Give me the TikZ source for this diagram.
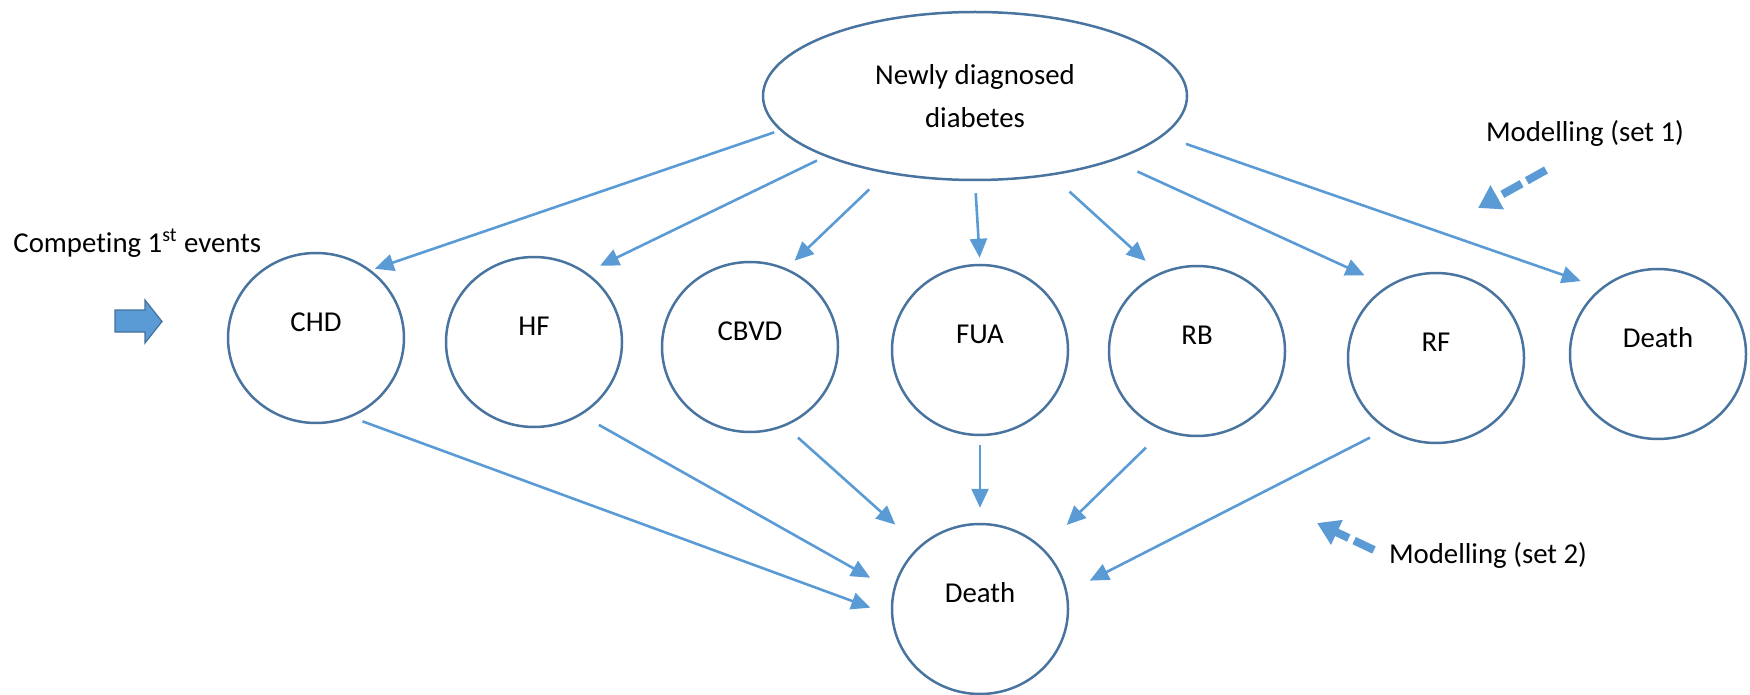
\documentclass[tikz,border=0pt]{standalone}
\usepackage{fontspec}
\setmainfont[Ligatures=NoCommon]{Carlito}
\usetikzlibrary{arrows.meta,shapes.geometric}
\definecolor{edgeblue}{HTML}{4A74A0}
\definecolor{arrowblue}{HTML}{5B9BD5}
\definecolor{blockedge}{HTML}{41719C}
\begin{document}
\begin{tikzpicture}[x=0.5pt,y=-0.5pt,
  every node/.style={font=\fontsize{14.4pt}{21.5pt}\selectfont},
  state/.style={ellipse, draw=edgeblue, line width=1.25pt, minimum width=88pt, minimum height=85pt, inner sep=0pt},
  lbl/.style={yshift=8pt, inner sep=0pt},
  arr/.style={draw=arrowblue, line width=1.3pt, -{Triangle[length=9.5pt,width=8.5pt]}},
  dasharr/.style={draw=arrowblue, line width=4pt, dash pattern=on 11pt off 3pt, -{Triangle[length=11pt,width=13pt]}}
]
\useasboundingbox (0,0) rectangle (1750,695);

% top node
\node[ellipse, draw=edgeblue, line width=1.25pt, minimum width=212pt, minimum height=84pt, inner sep=0pt, align=center] (top) at (975,96) {Newly diagnosed\\diabetes};

% first events
\node[state, label={[lbl]center:CHD}] (chd) at (316,338) {};
\node[state, label={[lbl]center:HF}] (hf) at (534,342) {};
\node[state, label={[lbl]center:CBVD}] (cbvd) at (750,347) {};
\node[state, label={[lbl]center:FUA}] (fua) at (980,350) {};
\node[state, label={[lbl]center:RB}] (rb) at (1197,351) {};
\node[state, label={[lbl]center:RF}] (rf) at (1436,358) {};
\node[state, label={[lbl]center:Death}] (d2) at (1658,354) {};
\node[state, label={[lbl]center:Death}] (db) at (980,609) {};

% arrows from top
\draw[arr, shorten <=3pt, shorten >=2pt] (top.190.3) -- (chd.51.7);
\draw[arr, shorten <=4.5pt, shorten >=7.5pt] (top.202.4) -- (hf.53.5);
\draw[arr, shorten <=11.5pt, shorten >=5.5pt] (top.221.2) -- (cbvd.65.8);
\draw[arr, shorten <=6pt, shorten >=3pt] (top.270) -- (fua.90);
\draw[arr, shorten <=12pt, shorten >=9pt] (top.314.4) -- (rb.116.8);
\draw[arr, shorten <=13pt, shorten >=12.5pt] (top.335) -- (rf.124.7);
\draw[arr, shorten <=12pt, shorten >=10.5pt] (top.348.2) -- (d2.131.2);

% arrows to bottom death
\draw[arr, shorten <=6pt, shorten >=11pt] (chd.294.7) -- (db.184.2);
\draw[arr, shorten <=10pt, shorten >=13pt] (hf.303.4) -- (db.168.4);
\draw[arr, shorten <=8.5pt, shorten >=16pt] (cbvd.294.1) -- (db.134.7);
\draw[arr, shorten <=4.5pt, shorten >=7.5pt] (fua.270) -- (db.90);
\draw[arr, shorten <=12pt, shorten >=16.5pt] (rb.247.4) -- (db.44.7);
\draw[arr, shorten <=9pt, shorten >=12.5pt] (rf.235.7) -- (db.11.3);

% labels
\node[anchor=west, inner sep=0pt] (comp) at (13,243) {Competing 1\textsuperscript{st} events};
\node[inner sep=0pt] (m1) at (1585,133) {Modelling (set 1)};
\node[inner sep=0pt] (m2) at (1488,555) {Modelling (set 2)};

% block arrow
\filldraw[fill=arrowblue, draw=blockedge, line width=0.6pt]
  (115,310) -- (145,310) -- (145,300) -- (162,321.5) -- (145,343) -- (145,332) -- (115,332) -- cycle;

% dashed modelling arrows
\coordinate (s1a) at (1546,170);
\coordinate (s1b) at (1478,208);
\coordinate (s2a) at (1374,550);
\coordinate (s2b) at (1317,523);
\draw[dasharr] (s1a) -- (s1b);
\draw[dasharr] (s2a) -- (s2b);
\end{tikzpicture}
\end{document}
